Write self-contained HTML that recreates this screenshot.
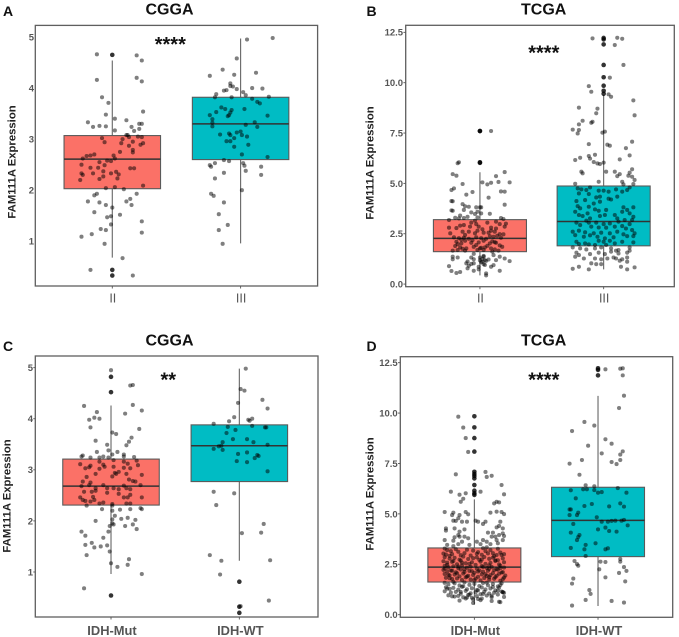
<!DOCTYPE html>
<html>
<head>
<meta charset="utf-8">
<title>FAM111A Expression boxplots</title>
<style>
html,body{margin:0;padding:0;background:#fff;}
svg{display:block;font-family:"Liberation Sans",sans-serif;filter:blur(0.3px);}
.title{font-size:16px;font-weight:bold;fill:#111;text-anchor:middle;}
.letter{font-size:14px;font-weight:bold;fill:#111;}
.ytitle{font-size:11.3px;font-weight:bold;fill:#222;text-anchor:middle;}
.stars{font-size:20px;font-weight:bold;fill:#111;text-anchor:middle;}
</style>
</head>
<body>
<svg id="chart" xmlns="http://www.w3.org/2000/svg" width="679" height="637" viewBox="0 0 679 637">
  <text class="letter" x="3" y="16">A</text>
  <text class="letter" x="366.5" y="16">B</text>
  <text class="letter" x="3" y="351">C</text>
  <text class="letter" x="366.5" y="351">D</text>
  <text class="title" x="169.5" y="14.5">CGGA</text>
  <text class="title" x="543.7" y="14.5">TCGA</text>
  <text class="title" x="169.5" y="345.5">CGGA</text>
  <text class="title" x="543.7" y="345.5">TCGA</text>
  <text class="ytitle" transform="translate(15.5,162) rotate(-90)">FAM111A Expression</text>
  <text class="ytitle" transform="translate(373.3,163) rotate(-90)">FAM111A Expression</text>
  <text class="ytitle" transform="translate(10.5,496) rotate(-90)">FAM111A Expression</text>
  <text class="ytitle" transform="translate(373.3,494) rotate(-90)">FAM111A Expression</text>
  <g id="panels"></g>
  <text class="stars" x="170.3" y="51">****</text>
  <text class="stars" x="543.8" y="59.5">****</text>
  <text class="stars" x="168.3" y="386.5">**</text>
  <text class="stars" x="543.8" y="386.5">****</text>
</svg>
<script>
// ---------- Panel A ----------
const aCategories = ["II","III"];
const aTicks = [1,2,3,4,5];
const aTickLabels = ["1","2","3","4","5"];
const aQ1 = [2.03,2.60];
const aMedian = [2.61,3.30];
const aQ3 = [3.07,3.82];
const aWhiskerLow = [0.68,0.96];
const aWhiskerHigh = [4.54,4.97];
const aOutliersII = [4.65,0.44,0.33];
const aOutliersIII = [];
const aValuesII = [
4.66,4.64,4.54,4.16,4.20,4.13,3.82,3.71,3.54,3.48,
3.40,3.37,3.33,3.26,3.24,3.25,3.17,3.24,3.30,3.30,
3.20,3.16,3.02,2.94,3.00,3.08,3.08,3.04,2.95,3.05,
3.04,2.89,2.92,2.92,2.87,2.79,2.74,2.75,2.62,2.67,
2.68,2.70,2.50,2.44,2.55,2.44,2.49,2.58,2.57,2.68,
2.62,2.37,2.36,2.33,2.31,2.33,2.33,2.30,2.20,2.22,
2.27,2.23,2.43,2.43,2.09,2.04,2.06,2.02,1.93,1.90,
1.93,1.78,1.76,1.78,1.83,1.71,1.71,1.66,1.57,1.52,
1.49,1.47,1.39,1.33,1.24,1.22,1.17,1.14,1.09,0.95,
0.67,0.44,0.33];
const aJitterII = [
-.12,.19,.23,-.12,.19,.23,-.08,-.03,.24,-.05,
.02,.11,-.19,-.10,-.15,-.05,.02,.15,.21,.23,
.21,.17,-.08,-.06,.08,.11,.12,.13,.16,.20,
.23,.22,.24,.07,.13,.16,.16,.06,-.23,-.20,
-.17,-.14,-.24,-.17,-.10,-.11,-.06,-.04,-.01,.01,
.02,-.07,.03,-.01,.05,-.15,-.24,-.23,-.25,-.10,
-.07,.04,.14,.17,.24,-.05,.02,.09,-.12,-.14,
.19,-.19,-.10,.11,.14,.15,-.05,0,-.14,.06,
-.01,-.04,.23,-.01,-.09,-.05,.23,-.16,-.24,-.06,
.08,-.17,.16];
const aValuesIII = [
4.95,4.98,4.58,4.36,4.30,4.24,4.26,4.09,4.04,3.95,
3.96,4.03,3.98,3.92,3.86,4.00,3.99,3.88,3.82,3.82,
3.83,3.79,3.73,3.70,3.62,3.59,3.57,3.52,3.47,3.45,
3.53,3.47,3.39,3.59,3.46,3.32,3.25,3.28,3.33,3.24,
3.09,3.11,3.08,3.13,3.15,3.08,3.05,3.02,2.96,2.96,
2.89,2.85,2.70,2.65,2.59,2.57,2.53,2.49,2.46,2.53,
2.48,2.46,2.38,2.34,2.30,2.23,2.00,1.93,1.89,1.76,
1.53,1.32,1.22,0.95];
const aJitterIII = [
.05,.25,-.03,-.14,.12,-.24,-.05,-.08,-.08,-.13,
-.11,-.06,-.03,.02,.04,.09,.17,-.19,-.20,-.07,
.22,.09,.13,.15,-.15,-.12,-.07,-.08,-.09,-.10,
-.19,-.24,-.22,.03,.21,-.22,-.22,.04,.11,.13,
-.16,-.09,-.08,-.03,0,.01,.05,-.05,-.11,-.08,
.06,-.05,.01,.21,-.13,-.09,-.20,-.24,-.23,.02,
.03,.16,.04,-.13,.16,-.20,.01,-.23,-.21,-.13,
-.17,-.10,-.17,-.14];

// ---------- Panel B ----------
const bCategories = ["II","III"];
const bTicks = [0,2.5,5,7.5,10,12.5];
const bTickLabels = ["0.0","2.5","5.0","7.5","10.0","12.5"];
const bQ1 = [1.61,1.90];
const bMedian = [2.27,3.11];
const bQ3 = [3.20,4.87];
const bWhiskerLow = [0.43,0.73];
const bWhiskerHigh = [5.55,9.39];
const bOutliersII = [7.6,7.6,6.05,6.02];
const bOutliersIII = [12.22,12.15,11.9,10.88,10.27,9.85,9.6,9.45];
const bValuesII = [
7.6,6.05,6.0,5.46,5.38,5.56,5.36,5.05,5.07,5.03,
4.95,5.05,4.97,4.75,4.67,4.57,4.44,4.60,4.59,4.29,
3.94,4.12,4.11,3.97,3.86,3.84,3.81,3.81,3.81,3.66,
3.64,3.68,3.56,3.59,3.48,3.51,3.49,3.34,3.29,3.26,
3.28,3.31,3.28,3.23,3.18,3.10,3.05,3.05,2.98,2.93,
2.98,2.80,2.78,2.85,2.85,2.80,2.76,2.85,2.60,2.60,
2.52,2.52,2.55,2.65,2.60,2.48,2.47,2.32,2.28,2.30,
2.25,2.32,2.28,2.25,2.35,2.30,2.10,2.02,2.15,2.05,
2.07,2.15,2.02,2.05,1.89,1.82,1.77,1.85,1.77,1.82,
1.77,1.92,1.85,1.66,1.69,1.66,1.69,1.69,1.61,1.66,
1.36,1.23,1.32,1.32,1.23,1.32,1.36,1.19,1.11,1.36,
1.27,1.14,1.44,1.19,1.03,0.91,1.03,0.89,0.86,0.99,
0.94,0.86,0.65,0.55,0.60,0.78,0.66,0.73,0.53,0.66,
0.43,
2.90,2.72,2.44,2.38,2.20,2.12,1.98,1.94,1.90,1.75,
1.72,1.50,1.40,1.25,1.18,1.15,1.08,1.00,0.95,2.65,
2.40,3.15,3.40,3.00,2.55,2.18,2.08,1.80,1.12,1.22];
const bJitterII = [
.09,-.17,-.18,-.22,-.19,.20,.13,.24,.15,.09,
.06,.02,-.14,-.21,-.23,-.06,-.11,.17,.20,.07,
.20,-.23,-.22,-.14,-.12,-.09,-.03,0,.01,-.23,
-.22,-.13,-.07,-.02,-.04,.01,.08,-.10,-.20,-.17,
-.13,-.02,.17,.19,-.25,.13,.06,-.07,-.03,-.13,
.16,-.25,-.19,-.08,-.01,.09,.13,.20,-.14,-.09,
-.24,-.04,.03,.09,.12,.16,.19,-.21,-.17,-.13,
-.09,-.03,.01,.05,.11,.17,-.19,-.15,-.12,-.07,
-.01,.03,.08,.13,-.20,-.16,-.11,-.05,0,.04,
.09,.16,.18,-.22,-.18,-.12,-.02,.03,.10,.15,
-.22,-.22,-.18,-.07,-.05,0,.03,.04,.02,.16,
.20,.24,.11,.13,-.11,-.09,-.05,-.25,-.01,.03,
.11,.09,-.23,-.19,-.16,-.10,-.05,-.01,.05,.16,
.05,
-.16,.02,-.12,.08,-.15,.10,-.18,-.03,.06,-.14,
.12,-.05,.03,.02,0,.05,.01,-.07,.04,-.02,
.14,-.04,-.16,.21,.07,-.06,.12,.01,-.10,.07];
const bValuesIII = [
12.2,12.23,12.18,11.87,10.88,10.25,9.83,9.55,9.42,9.30,
9.12,8.76,8.71,8.48,8.38,8.11,7.93,8.06,8.01,7.67,
7.65,7.48,7.52,7.57,7.07,6.95,6.92,6.87,6.75,6.39,
6.36,6.42,6.27,6.16,6.23,6.19,6.06,5.99,5.96,6.03,
5.58,5.50,5.58,5.58,5.46,5.36,5.70,5.53,5.38,5.33,
5.17,5.08,5.08,4.98,4.95,4.97,
4.75,4.70,4.67,4.80,4.64,4.64,4.59,4.70,4.59,4.80,
4.67,4.50,4.47,4.30,4.34,4.24,4.20,4.34,4.12,4.17,
4.00,4.09,3.87,3.76,3.84,3.71,3.68,3.81,3.81,3.59,
3.43,3.51,3.64,3.43,3.59,3.68,3.51,3.38,3.26,3.38,
3.43,3.26,3.18,3.34,3.18,3.05,3.15,3.05,3.05,2.98,
3.01,3.10,2.98,2.93,2.85,2.81,2.80,2.85,2.88,2.76,
2.68,2.60,2.65,2.57,2.52,2.55,2.52,2.60,2.47,2.52,
2.43,2.35,2.42,2.35,2.27,2.32,2.38,2.38,2.10,2.02,
2.15,2.10,2.15,2.02,2.10,2.07,1.99,1.97,1.94,1.94,
1.82,1.77,1.72,1.77,1.82,1.77,1.69,1.82,1.66,1.56,
1.44,1.49,1.56,1.49,1.61,1.66,1.52,1.56,1.36,1.27,
1.27,1.23,1.27,1.32,1.27,1.23,1.32,1.03,0.99,0.99,
1.16,1.11,0.76,0.86,0.73,0.86,0.73,0.83];
const bJitterIII = [
-.09,.11,.15,.09,.16,.05,-.12,-.10,.04,.06,
.24,-.20,-.05,-.06,.25,-.17,-.20,-.09,-.10,-.25,
-.20,-.21,-.01,.01,.23,-.12,.03,.05,.18,.21,
-.12,-.07,-.19,-.23,-.11,.13,-.08,-.05,-.03,0,
-.18,-.17,.02,.09,.13,.11,.23,.21,.20,.23,
.25,-.04,.15,-.23,.16,.24,
-.21,-.18,-.14,-.11,-.04,0,.04,.10,.15,.21,
.19,-.20,-.12,-.06,-.03,.04,.06,.11,-.22,-.15,
-.08,-.03,-.21,-.19,-.12,-.07,.02,.16,.24,-.23,
-.20,-.13,-.04,.09,.15,.19,.21,-.17,-.11,-.03,
.01,.11,.17,.24,.23,-.22,-.14,-.12,-.06,0,
.05,.12,.21,-.19,-.10,-.04,.02,.09,.15,.18,
.23,-.25,-.20,-.15,-.08,-.02,.05,.11,.16,.25,
-.23,-.16,-.11,-.05,.01,.08,.19,.24,-.22,-.15,
-.04,0,.05,.09,.15,.24,-.20,-.12,-.07,.02,
-.25,-.19,-.14,-.07,-.02,.06,.12,.21,.21,-.22,
-.20,-.11,-.04,.01,.06,.10,.12,.19,-.23,-.16,
-.07,-.02,.03,.08,.10,.15,.19,-.10,-.06,-.02,
.13,.19,-.25,-.20,-.12,.14,.19,.25];

// ---------- Panel C ----------
const cCategories = ["IDH-Mut","IDH-WT"];
const cTicks = [1,2,3,4,5];
const cTickLabels = ["1","2","3","4","5"];
const cQ1 = [2.31,2.77];
const cMedian = [2.68,3.47];
const cQ3 = [3.21,3.88];
const cWhiskerLow = [0.96,1.22];
const cWhiskerHigh = [4.26,4.98];
const cOutliersMut = [4.82,4.52,0.54];
const cOutliersWT = [0.81,0.32,0.20];
const cValuesMut = [
4.95,4.65,4.66,4.25,4.13,4.27,4.16,4.10,4.02,4.00,
3.98,3.83,3.80,3.73,3.70,3.63,3.55,3.57,3.48,3.49,
3.35,3.38,3.35,3.30,3.30,3.28,3.26,3.24,3.24,3.26,
3.24,3.26,3.25,3.11,3.16,3.19,3.16,3.12,3.18,3.09,
3.10,3.06,3.08,3.03,3.05,3.02,3.06,3.04,3.03,2.96,
2.92,2.94,2.92,2.92,2.90,2.86,2.87,2.81,2.78,2.77,
2.77,2.75,2.70,2.70,2.68,2.70,2.69,2.64,2.64,2.64,
2.62,2.62,2.57,2.57,2.59,2.55,2.64,2.51,2.46,2.46,
2.47,2.53,2.46,2.46,2.39,2.41,2.38,2.41,2.34,2.36,
2.33,2.34,2.34,2.30,2.23,2.30,2.22,2.23,2.25,2.23,
2.20,2.10,2.03,2.04,2.06,2.02,2.00,1.95,1.90,1.93,
1.90,1.93,1.84,1.79,1.79,1.71,1.67,1.57,1.53,1.52,
1.48,1.50,1.40,1.33,1.25,1.17,1.14,1.10,0.96,0.68];
const cJitterMut = [
0,.15,.17,-.21,-.11,.17,.24,.11,-.13,-.09,
-.17,-.16,.22,.01,.04,.16,.14,-.12,.12,-.03,
-.11,-.02,.05,.01,.10,-.22,-.23,-.16,-.09,-.06,
-.02,.10,.18,-.24,-.09,.02,.10,.13,.20,.21,
-.06,-.05,-.16,-.20,-.17,-.09,.02,.10,.15,.06,
.04,.03,.12,-.12,.24,-.19,.01,.14,.17,.19,
-.22,-.16,-.17,.23,-.23,-.06,.10,-.12,-.03,.02,
.06,.15,-.21,-.15,-.12,-.03,.12,.15,.24,-.24,
-.14,.06,.10,.13,-.20,-.22,-.16,-.13,-.09,-.06,
.01,.12,.15,-.19,-.07,.01,.07,.15,.23,.24,
.01,.03,.01,.08,.13,.19,-.12,.01,-.01,.02,
.11,.17,.20,-.23,-.02,-.20,-.06,-.15,-.20,-.03,
-.13,-.08,-.01,-.19,.14,0,.13,.05,.24,-.21];
const cValuesWT = [
4.98,4.58,4.55,4.31,4.37,4.20,4.03,3.95,3.98,3.96,
4.00,3.90,3.84,3.86,3.83,3.83,3.78,3.72,3.60,3.60,
3.54,3.54,3.49,3.46,3.47,3.41,3.39,3.34,3.31,3.29,
3.27,3.23,3.17,3.15,2.97,2.57,2.54,2.31,1.94,1.76,
1.77,1.33,1.22,1.23,0.95,0.44,0.33];
const cJitterWT = [
.05,.01,.04,-.01,.18,.22,-.04,-.08,.07,.08,
.10,-.20,-.09,.10,.20,.21,-.03,-.10,-.05,.06,
.11,-.13,.22,-.16,-.14,-.20,-.13,.06,-.01,.14,
.15,.12,-.02,.06,.22,-.20,-.04,-.18,.19,.02,
.17,-.23,-.14,.24,-.15,.23,.01];

// ---------- Panel D ----------
const dCategories = ["IDH-Mut","IDH-WT"];
const dTicks = [0,2.5,5,7.5,10,12.5];
const dTickLabels = ["0.0","2.5","5.0","7.5","10.0","12.5"];
const dQ1 = [1.62,2.88];
const dMedian = [2.36,4.68];
const dQ3 = [3.31,6.32];
const dWhiskerLow = [0.50,0.43];
const dWhiskerHigh = [5.72,10.85];
const dOutliersMut = [9.84,9.29,8.76,8.09,7.09,6.98,6.88,6.76,6.43,6.15,6.02,5.94];
const dOutliersWT = [12.22,12.14,11.87];
const dValuesMut = [
9.82,9.28,8.76,8.07,6.96,7.08,6.83,6.89,6.43,6.10,
6.10,5.97,5.95,6.02,5.75,5.60,5.60,5.52,5.57,5.09,
5.06,5.09,4.98,4.94,4.94,4.78,5.06,5.11,5.09,4.99,
4.66,4.65,4.61,4.61,4.66,4.61,4.61,4.50,4.61,4.40,
4.28,4.33,4.28,4.17,4.28,4.23,4.12,3.95,4.07,4.07,
4.03,3.95,3.87,3.84,3.87,3.87,3.79,3.87,3.90,3.70,
3.70,3.67,3.62,3.62,3.62,3.70,3.70,3.46,3.50,3.46,
3.50,3.50,3.54,
3.28,3.20,3.25,3.12,3.22,3.18,3.10,3.30,3.15,3.20,3.27,3.08,
3.03,2.98,3.00,2.95,3.05,2.93,3.02,2.97,3.04,2.90,2.96,3.00,
2.85,2.78,2.82,2.73,2.88,2.76,2.80,2.72,2.86,2.77,2.83,2.70,2.79,
2.65,2.58,2.62,2.50,2.68,2.55,2.60,2.47,2.63,2.52,2.57,2.66,2.49,2.60,
2.42,2.35,2.40,2.30,2.44,2.33,2.38,2.28,2.41,2.32,2.37,2.26,2.43,2.34,
2.22,2.15,2.19,2.10,2.24,2.12,2.17,2.08,2.20,2.13,2.18,2.06,2.23,2.11,
2.02,1.95,1.99,1.90,2.04,1.93,1.97,1.88,2.00,1.92,1.96,1.86,2.03,1.94,
1.83,1.77,1.80,1.72,1.85,1.74,1.79,1.70,1.82,1.75,1.78,1.68,1.84,
1.58,1.50,1.55,1.45,1.60,1.48,1.53,1.42,1.57,1.46,1.52,1.40,1.56,
1.36,1.28,1.33,1.24,1.38,1.26,1.31,1.22,1.35,1.25,1.30,1.20,1.34,1.15,1.12,
1.16,1.10,1.13,1.04,1.18,1.06,1.11,1.02,1.14,1.05,1.09,1.00,
0.96,0.90,0.93,0.86,0.98,0.84,0.92,0.80,0.95,0.87,0.88,
0.78,0.76,0.72,0.68,0.64,0.62,0.58,0.80,0.70,
3.15,3.05,2.92,2.84,2.70,2.66,2.52,2.47,2.44,2.39,
2.36,2.31,2.29,2.25,2.21,2.18,2.14,2.09,2.05,2.01,
1.98,1.93,1.89,1.86,1.81,1.76,1.71,1.63,1.59,1.47,
1.41,1.37,1.29,1.21,1.19,1.13,1.11,1.08,1.03,0.99,
0.94,0.91,0.85,3.34,3.40,2.96,2.58,2.74,2.27,2.16];
const dJitterMut = [
-.13,-.09,-.07,-.05,-.15,.09,.10,.14,.22,-.19,
.05,.24,-.12,-.07,-.09,-.11,.18,.16,.20,-.24,
-.17,-.07,-.05,-.18,-.12,-.13,.13,.18,.22,.24,
-.17,-.15,-.10,-.06,.01,.03,.09,.07,.21,.20,
.23,.18,-.23,-.23,-.16,-.08,-.12,-.13,.11,.15,
.23,.20,.17,-.16,-.12,-.08,-.05,.14,.24,.07,
-.24,-.17,-.10,.02,.10,.18,.23,-.22,-.13,-.04,
.05,.13,.19,
-.24,-.22,-.15,-.13,-.06,-.01,.03,.07,.09,.13,.19,.21,
-.25,-.23,-.18,-.11,-.08,-.03,.02,.06,.11,.16,.22,.24,
-.24,-.20,-.16,-.12,-.09,-.05,-.01,.04,.08,.12,.15,.19,.23,
-.25,-.22,-.18,-.14,-.11,-.07,-.02,.01,.05,.09,.13,.17,.20,.24,
-.24,-.21,-.17,-.13,-.10,-.06,-.03,.02,.06,.10,.14,.18,.21,.24,
-.25,-.22,-.19,-.15,-.11,-.08,-.04,0,.04,.07,.11,.15,.19,.23,
-.24,-.20,-.16,-.12,-.09,-.05,-.01,.03,.06,.10,.13,.17,.20,.25,
-.23,-.18,-.14,-.10,-.07,-.03,.01,.05,.08,.12,.16,.21,.24,
-.24,-.21,-.16,-.12,-.08,-.04,0,.04,.07,.11,.15,.19,.22,
-.23,-.20,-.17,-.13,-.10,-.06,-.02,.02,.06,.09,.13,.17,.20,.22,.23,
-.24,-.19,-.15,-.11,-.07,-.03,.01,.05,.08,.12,.16,.19,
-.21,-.16,-.13,-.09,-.05,-.02,.02,.06,.10,.14,.24,
.03,-.01,.05,.14,.20,.21,-.01,-.07,-.12,
-.19,.15,-.20,.02,.17,-.17,-.04,-.22,.12,-.13,
.07,.21,-.24,-.08,.16,-.18,.03,.22,-.14,.09,
-.21,.18,-.06,.12,-.20,.23,0,-.17,.10,.21,
-.09,.15,-.22,.03,.19,-.11,.23,.24,.07,-.04,
.14,-.18,-.06,.10,-.17,.18,-.10,.06,.12,-.02];
const dValuesWT = [
12.17,12.20,12.22,11.87,10.86,10.25,9.56,9.11,9.38,8.70,
8.48,8.38,8.10,7.94,8.00,7.67,7.67,7.57,7.47,7.49,
6.94,6.42,6.37,6.28,6.17,6.22,6.22,6.18,6.05,6.08,
6.05,5.77,5.49,5.39,5.52,5.36,5.37,5.22,5.22,5.06,
4.94,4.94,4.83,4.50,4.61,4.61,4.65,4.66,4.66,4.70,
4.43,4.23,4.32,4.15,4.12,4.07,3.95,3.85,3.70,3.46,
3.54,3.31,3.24,3.24,3.29,2.91,2.66,2.51,2.43,2.63,
2.61,2.76,2.63,2.25,2.36,2.17,2.07,1.85,1.79,1.65,
1.54,1.22,1.03,0.73,0.68,0.60,0.45];
const dJitterWT = [
.06,.18,.20,.20,.21,.17,-.11,-.21,-.03,.06,
.11,-.08,.20,.18,.03,-.13,.18,.11,.15,-.23,
-.15,-.10,-.03,.16,-.22,-.12,-.09,-.03,0,.03,
.23,-.18,-.05,-.11,.18,.21,.09,-.23,-.22,-.16,
-.17,-.23,-.01,-.20,.03,.08,.11,.14,.19,.21,
.24,0,.06,.09,.15,-.22,-.15,-.16,-.17,-.10,
-.02,-.22,-.11,.06,.08,-.10,-.19,-.17,-.16,.02,
.06,.18,.18,.01,.21,.23,.17,.06,-.20,.22,
-.21,-.07,-.06,-.10,.11,.21,-.21];

// ---------- Panel layouts ----------
const panels = [
  {id:"a",left:35.3,right:317.6,top:25.4,bottom:286,xMin:0.4,xMax:2.6,yMin:0.125,yMax:5.227,
   cats:aCategories,ticks:aTicks,labels:aTickLabels,q1:aQ1,med:aMedian,q3:aQ3,lo:aWhiskerLow,hi:aWhiskerHigh,
   vals:[aValuesII,aValuesIII],jit:[aJitterII,aJitterIII],out:[aOutliersII,aOutliersIII],
   catFont:"normal",catSize:12.5,catY:302.5,tickLen:0},
  {id:"b",left:405.7,right:674.3,top:25.3,bottom:286.7,xMin:0.4,xMax:2.571,yMin:-0.13,yMax:12.85,
   cats:bCategories,ticks:bTicks,labels:bTickLabels,q1:bQ1,med:bMedian,q3:bQ3,lo:bWhiskerLow,hi:bWhiskerHigh,
   vals:[bValuesII,bValuesIII],jit:[bJitterII,bJitterIII],out:[bOutliersII,bOutliersIII],
   catFont:"normal",catSize:12.5,catY:302.5,tickLen:2.3},
  {id:"c",left:35.3,right:318,top:356,bottom:617,xMin:0.41,xMax:2.613,yMin:0.119,yMax:5.228,
   cats:cCategories,ticks:cTicks,labels:cTickLabels,q1:cQ1,med:cMedian,q3:cQ3,lo:cWhiskerLow,hi:cWhiskerHigh,
   vals:[cValuesMut,cValuesWT],jit:[cJitterMut,cJitterWT],out:[cOutliersMut,cOutliersWT],
   catFont:"bold",catSize:12.9,catY:635,tickLen:2},
  {id:"d",left:400.3,right:672.7,top:356.7,bottom:617.3,xMin:0.401,xMax:2.604,yMin:-0.13,yMax:12.796,
   cats:dCategories,ticks:dTicks,labels:dTickLabels,q1:dQ1,med:dMedian,q3:dQ3,lo:dWhiskerLow,hi:dWhiskerHigh,
   vals:[dValuesMut,dValuesWT],jit:[dJitterMut,dJitterWT],out:[dOutliersMut,dOutliersWT],
   catFont:"bold",catSize:12.9,catY:635,tickLen:2.3}
];
const fills = ["#FB7167","#00BCC4"];
const halfWidth = 0.376;
const NS = "http://www.w3.org/2000/svg";

function make(parent, tag, attrs) {
  const el = document.createElementNS(NS, tag);
  for (const k in attrs) el.setAttribute(k, attrs[k]);
  parent.appendChild(el);
  return el;
}

function drawPanel(p) {
  const root = document.getElementById("panels");
  const g = make(root, "g", {});
  
  

  const xScale = v => p.left + (v - p.xMin) / (p.xMax - p.xMin) * (p.right - p.left);
  const yScale = v => p.bottom - (v - p.yMin) / (p.yMax - p.yMin) * (p.bottom - p.top);

  const frame = make(g, "rect", {x:p.left, y:p.top, width:p.right-p.left, height:p.bottom-p.top, fill:"#fff", stroke:"#5f5f5f", "stroke-width":1.3});
  
  

  p.ticks.forEach((t, i) => {
    const y = yScale(t);
    if (p.tickLen > 0) {
      const tick = make(g, "line", {x1:p.left-p.tickLen, x2:p.left, y1:y, y2:y, stroke:"#555", "stroke-width":0.9});
      
      
    }
    const label = make(g, "text", {x:p.left-Math.max(p.tickLen,1)-0.3, y:y+3.4, "text-anchor":"end", "font-size":9.5, "font-weight":"bold", fill:"#555"});
    label.textContent = p.labels[i];
    
    
  });

  p.cats.forEach((cat, i) => {
    const cx = xScale(i + 1);
    const tick = make(g, "line", {x1:cx, x2:cx, y1:p.bottom, y2:p.bottom+2.5, stroke:"#555", "stroke-width":0.9});
    
    
    const label = make(g, "text", {x:cx+(p.catFont==="bold"?1:0.5), y:p.catY, "text-anchor":"middle", "font-size":p.catSize, "font-weight":p.catFont, fill:"#555"});
    label.textContent = cat;
    
    

    const x0 = xScale(i + 1 - halfWidth), x1 = xScale(i + 1 + halfWidth);
    const whisker = make(g, "path", {d:"M"+cx+" "+yScale(p.hi[i])+"V"+yScale(p.q3[i])+"M"+cx+" "+yScale(p.q1[i])+"V"+yScale(p.lo[i]), stroke:"#666", "stroke-width":1.1, fill:"none"});
    
    
    const box = make(g, "rect", {x:x0, y:yScale(p.q3[i]), width:x1-x0, height:yScale(p.q1[i])-yScale(p.q3[i]), fill:fills[i], stroke:"#5a5a5a", "stroke-width":1.1});
    
    
    const median = make(g, "line", {x1:x0, x2:x1, y1:yScale(p.med[i]), y2:yScale(p.med[i]), stroke:"#333", "stroke-width":1.5});
    
    

    p.out[i].forEach(v => {
      const o = make(g, "circle", {cx:cx, cy:yScale(v), r:2.3, fill:"#000", "fill-opacity":0.8});
      
      
    });
    p.vals[i].forEach((v, k) => {
      const c = make(g, "circle", {cx:xScale(i + 1 + (p.jit[i][k] || 0)), cy:yScale(v), r:2.05, fill:"#000", "fill-opacity":0.5});
      
      
    });
  });
}
panels.forEach(drawPanel);
</script>
</body>
</html>
